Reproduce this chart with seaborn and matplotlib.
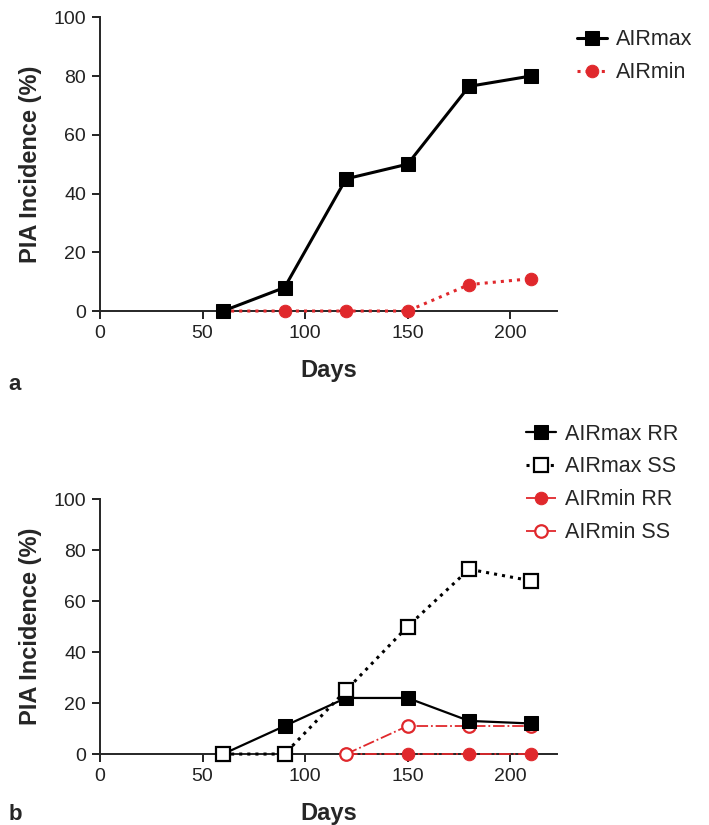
import matplotlib
matplotlib.use('Agg')
import matplotlib.pyplot as plt
import seaborn as sns
import pandas as pd

# dados
days = [60, 90, 120, 150, 180, 210]
airmax = [0, 8, 45, 50, 76.5, 80]
airmin = [0, 0, 0, 0, 9, 11]

days_min_b = [120, 150, 180, 210]
airmax_rr = [0, 11, 22, 22, 13, 12]
airmax_ss = [0, 0, 25, 50, 72.5, 68]
airmin_rr = [0, 0, 0, 0]
airmin_ss = [0, 11, 11, 11]

xticks = [0, 50, 100, 150, 200]
yticks = [0, 20, 40, 60, 80, 100]

sns.set_style('ticks')
plt.rcParams['font.family'] = ['Liberation Sans', 'DejaVu Sans']

red = '#e0282c'

fig = plt.figure(figsize=(7.09, 8.25), dpi=100)
ax1 = fig.add_axes([0.141, 0.623, 0.645, 0.356])
ax2 = fig.add_axes([0.141, 0.086, 0.645, 0.309])

# painel a
sns.lineplot(x=days, y=airmax, ax=ax1, color='black', lw=2.2, marker='s', markersize=10,
             markeredgecolor='black', label='AIRmax', clip_on=False, zorder=4)
sns.lineplot(x=days, y=airmin, ax=ax1, color=red, lw=2.2, linestyle=':', marker='o', markersize=9,
             markeredgecolor=red, label='AIRmin', clip_on=False, zorder=3)

# painel b
sns.lineplot(x=days, y=airmax_rr, ax=ax2, color='black', lw=1.6, marker='s', markersize=10,
             markeredgecolor='black', label='AIRmax RR', clip_on=False, zorder=4)
sns.lineplot(x=days, y=airmax_ss, ax=ax2, color='black', lw=2.2, linestyle=':', marker='s', markersize=10,
             markerfacecolor='white', markeredgecolor='black', markeredgewidth=1.6,
             label='AIRmax SS', clip_on=False, zorder=5)
sns.lineplot(x=days_min_b, y=airmin_rr, ax=ax2, color=red, lw=1.3, linestyle='-.', marker='o', markersize=9,
             markeredgecolor=red, label='AIRmin RR', clip_on=False, zorder=3)
sns.lineplot(x=days_min_b, y=airmin_ss, ax=ax2, color=red, lw=1.3, linestyle='-.', marker='o', markersize=9,
             markerfacecolor='white', markeredgecolor=red, markeredgewidth=1.6,
             label='AIRmin SS', clip_on=False, zorder=3)

for ax in [ax1, ax2]:
    ax.set_xlim(0, 223)
    ax.set_ylim(0, 100)
    ax.set_xticks(xticks)
    ax.set_yticks(yticks)
    ax.tick_params(labelsize=14, length=6, width=1.4, direction='out', colors='#222222', pad=4)
    for s in ['left', 'bottom']:
        ax.spines[s].set_linewidth(1.4)
    sns.despine(ax=ax)
    ax.set_xlabel('Days', fontsize=17, fontweight='bold', labelpad=12)
    ax.set_ylabel('PIA Incidence (%)', fontsize=17, fontweight='bold', labelpad=8)

ax1.legend(loc='upper left', bbox_to_anchor=(0.787, 0.988), bbox_transform=fig.transFigure,
           frameon=False, fontsize=15.5, handlelength=1.4, handletextpad=0.4, labelspacing=0.55)
ax2.legend(loc='upper left', bbox_to_anchor=(0.715, 0.51), bbox_transform=fig.transFigure,
           frameon=False, fontsize=15.5, handlelength=1.4, handletextpad=0.4, labelspacing=0.55)

fig.text(0.012, 0.527, 'a', fontsize=16, fontweight='bold')
fig.text(0.012, 0.006, 'b', fontsize=16, fontweight='bold')

fig.savefig('out.png', dpi=100)
